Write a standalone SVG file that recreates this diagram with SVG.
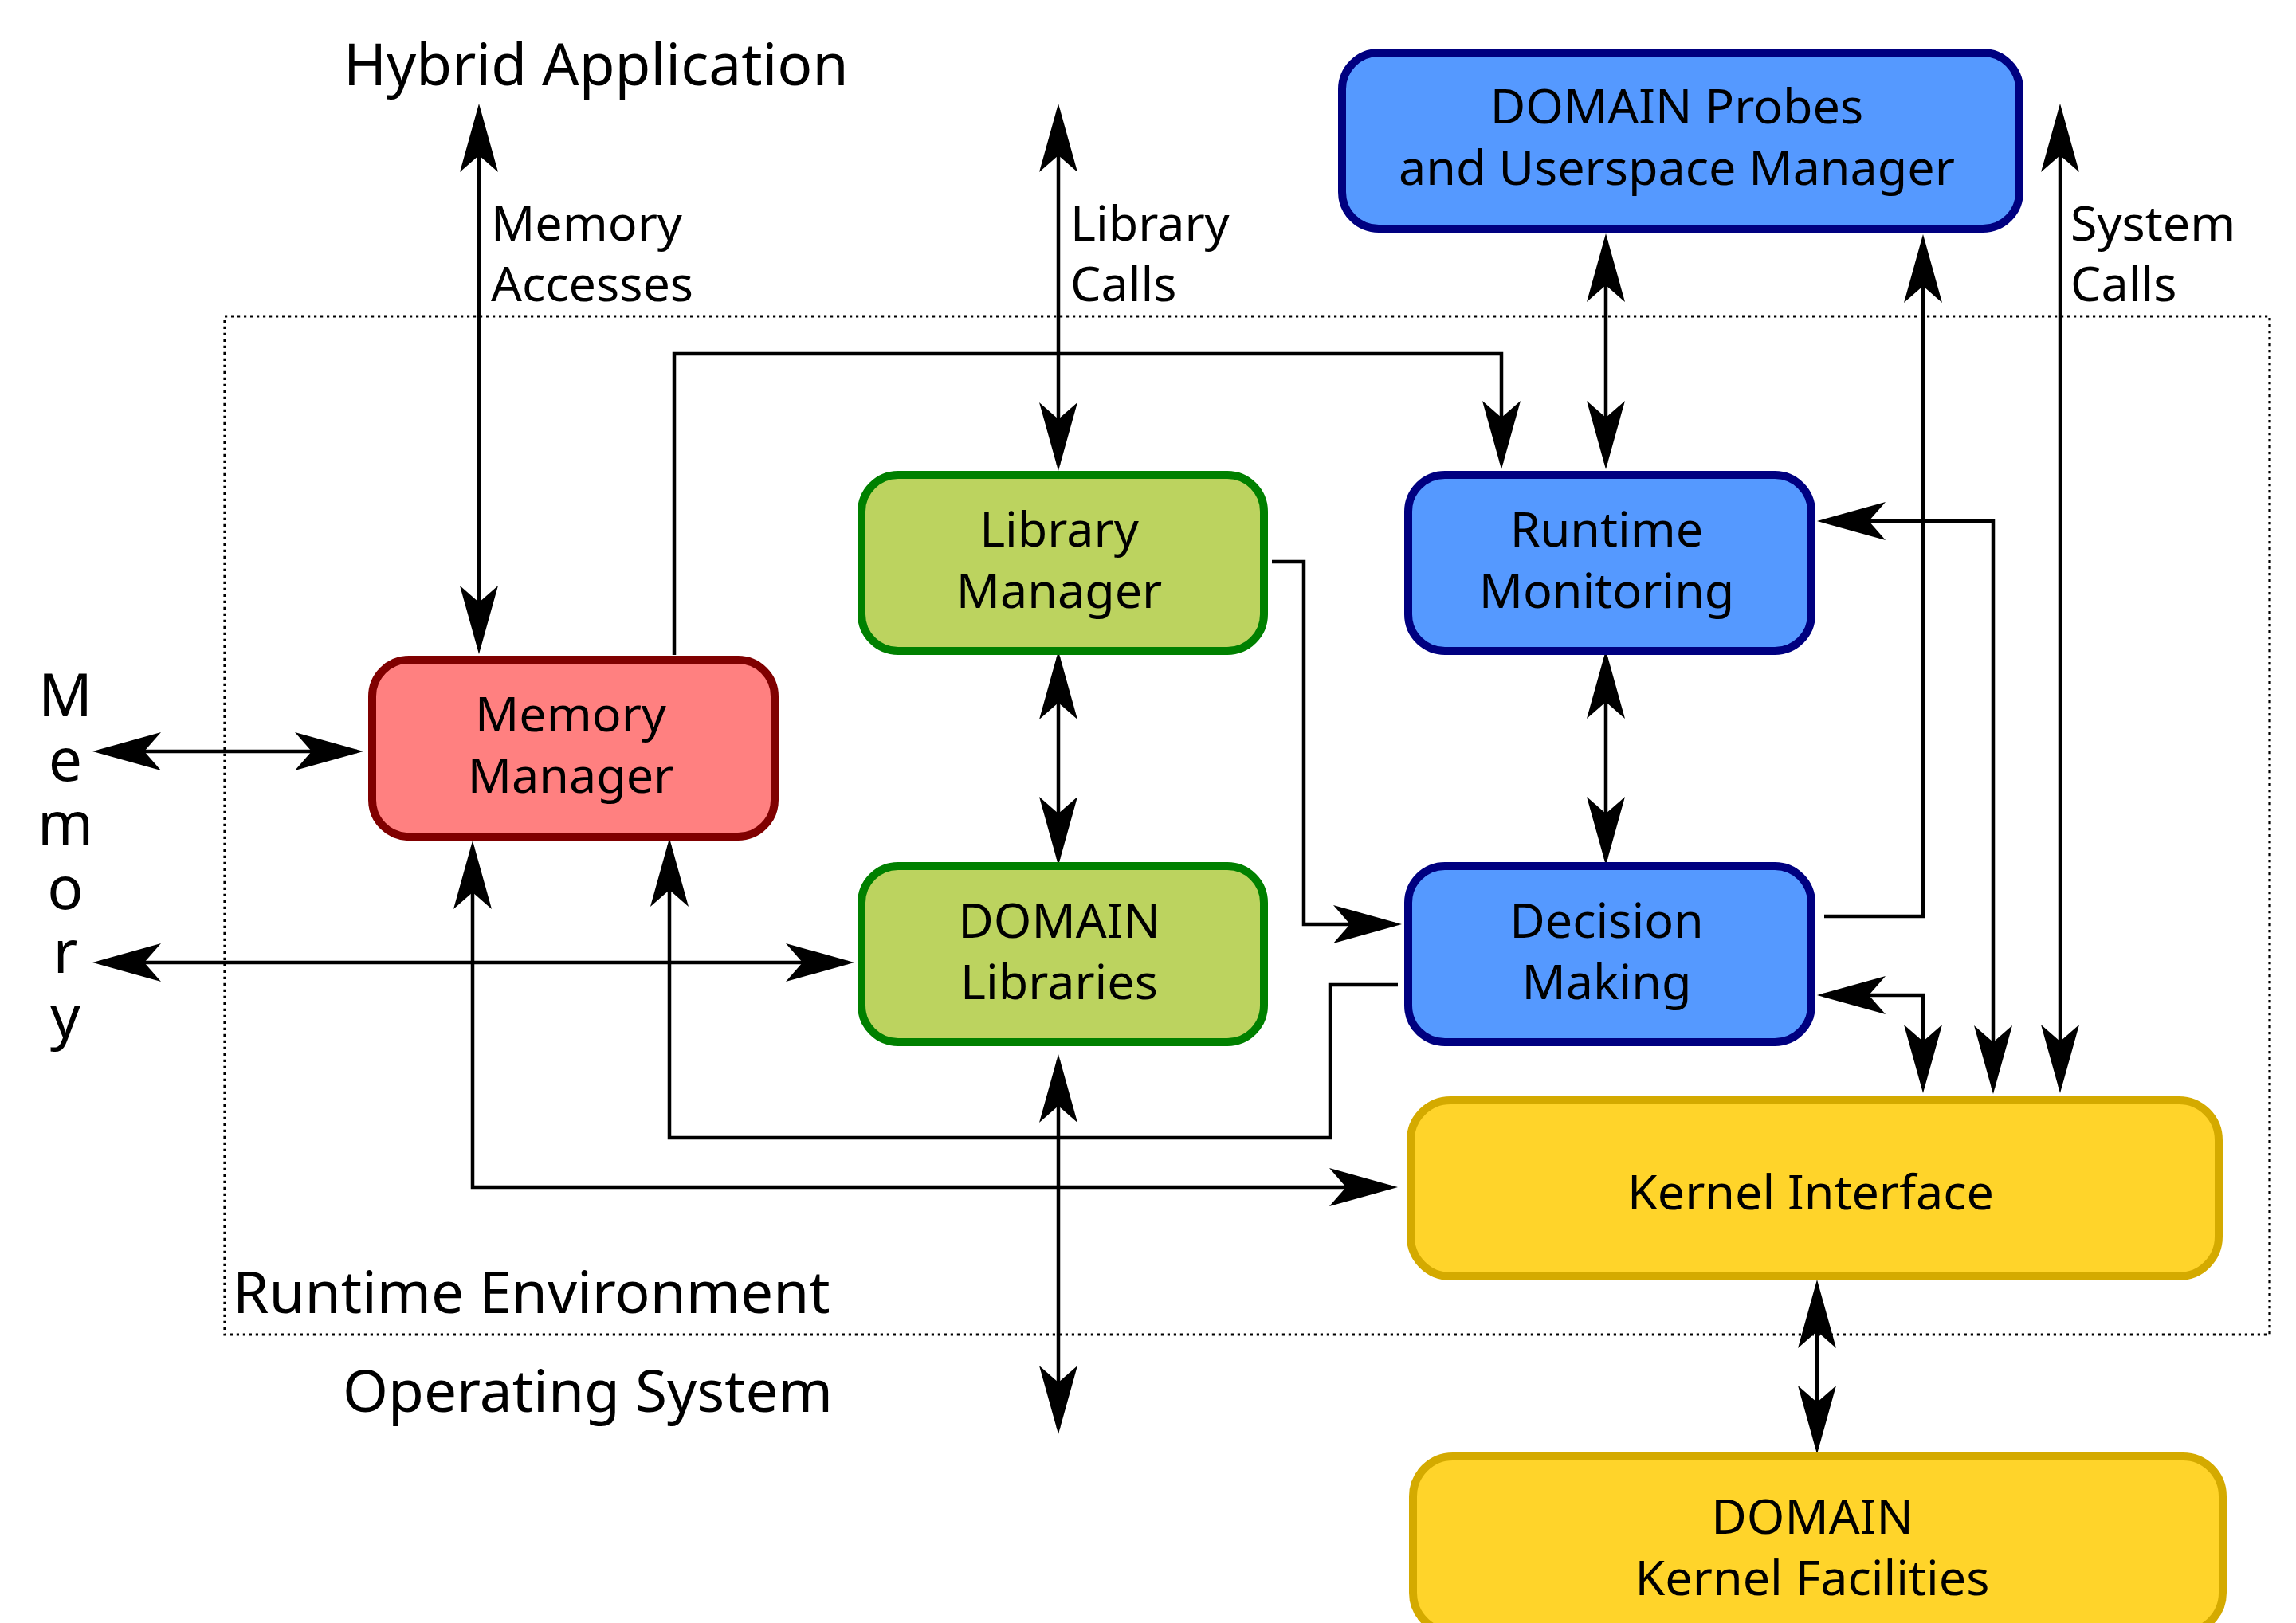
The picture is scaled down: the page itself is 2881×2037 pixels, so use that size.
<svg xmlns="http://www.w3.org/2000/svg" width="2881" height="2037" viewBox="0 0 2881 2037">
<style>
text{font-family:"Noto Sans","Open Sans","DejaVu Sans",sans-serif;fill:#000}
.big{font-size:73px}
.lbl{font-size:61px}
.nt{font-size:61px;text-anchor:middle}
.vm{font-size:75px;text-anchor:middle}
.blue{fill:#5599ff;stroke:#000080;stroke-width:10}
.green{fill:#bcd35f;stroke:#008000;stroke-width:10}
.red{fill:#ff8080;stroke:#800000;stroke-width:10}
.yellow{fill:#ffd42a;stroke:#d4aa00;stroke-width:10}
.c{fill:none;stroke:#000;stroke-width:4.5}
.c2{marker-start:url(#ah);marker-end:url(#ah)}
.c1{marker-end:url(#ah)}
</style>
<defs>
<marker id="ah" markerUnits="userSpaceOnUse" orient="auto-start-reverse" refX="0" refY="0" markerWidth="100" markerHeight="60" viewBox="-90 -30 100 60" overflow="visible">
<path d="M8,0 L-78,-24 L-57,0 L-78,24 Z" fill="#000"/>
</marker>
</defs>
<rect id="runtime-env" x="282" y="397" width="2566" height="1278" fill="none" stroke="#000" stroke-width="3.2" stroke-dasharray="3.2,4.8"/>
<text class="big" x="431" y="107">Hybrid Application</text>
<text class="big" x="292" y="1648">Runtime Environment</text>
<text class="big" x="430" y="1772">Operating System</text>
<g id="memory-label">
<text class="vm"><tspan x="82" y="899">M</tspan><tspan x="82" y="980">e</tspan><tspan x="82" y="1060">m</tspan><tspan x="82" y="1141">o</tspan><tspan x="82" y="1221">r</tspan><tspan x="82" y="1302">y</tspan></text>
</g>
<g id="edge-labels">
<text class="lbl"><tspan x="616" y="302">Memory</tspan><tspan x="616" y="378">Accesses</tspan></text>
<text class="lbl"><tspan x="1343" y="302">Library</tspan><tspan x="1343" y="378">Calls</tspan></text>
<text class="lbl"><tspan x="2598" y="302">System</tspan><tspan x="2598" y="378">Calls</tspan></text>
</g>
<g id="connectors">
<path class="c c2" d="M601,138 V813"/>
<path class="c c2" d="M1328,138 V583"/>
<path class="c c2" d="M2585,138 V1364"/>
<path class="c c2" d="M2015,301 V581"/>
<path class="c c1" d="M846,822 V444 H1884 V581"/>
<path class="c c2" d="M1328,825 V1078"/>
<path class="c c1" d="M1596,705 H1636 V1160 H1751"/>
<path class="c c2" d="M2015,824 V1078"/>
<path class="c c1" d="M2289,1150 H2413 V302"/>
<path class="c c2" d="M2288,1249 H2413 V1364"/>
<path class="c c2" d="M2288,654 H2501 V1365"/>
<path class="c c2" d="M124,943 H448"/>
<path class="c c2" d="M124,1208 H1064"/>
<path class="c c2" d="M593,1063 V1490 H1746"/>
<path class="c c1" d="M1754,1236 H1669 V1428 H840 V1060"/>
<path class="c c2" d="M1328,1331 V1792"/>
<path class="c c2" d="M2280,1614 V1817"/>
</g>
<g id="probes">
<rect class="blue" x="1684" y="66" width="850" height="221" rx="46" ry="46"/>
<text class="nt"><tspan x="2104" y="155">DOMAIN Probes</tspan><tspan x="2104" y="232">and Userspace Manager</tspan></text>
</g>
<g id="library-manager">
<rect class="green" x="1081" y="596" width="505" height="221" rx="46" ry="46"/>
<text class="nt"><tspan x="1329" y="686">Library</tspan><tspan x="1329" y="763">Manager</tspan></text>
</g>
<g id="memory-manager">
<rect class="red" x="467" y="828" width="505" height="222" rx="46" ry="46"/>
<text class="nt"><tspan x="716" y="918">Memory</tspan><tspan x="716" y="995">Manager</tspan></text>
</g>
<g id="domain-libraries">
<rect class="green" x="1081" y="1087" width="505" height="221" rx="46" ry="46"/>
<text class="nt"><tspan x="1329" y="1177">DOMAIN</tspan><tspan x="1329" y="1254">Libraries</tspan></text>
</g>
<g id="runtime-monitoring">
<rect class="blue" x="1767" y="596" width="506" height="221" rx="46" ry="46"/>
<text class="nt"><tspan x="2016" y="686">Runtime</tspan><tspan x="2016" y="763">Monitoring</tspan></text>
</g>
<g id="decision-making">
<rect class="blue" x="1767" y="1087" width="506" height="221" rx="46" ry="46"/>
<text class="nt"><tspan x="2016" y="1177">Decision</tspan><tspan x="2016" y="1254">Making</tspan></text>
</g>
<g id="kernel-interface">
<rect class="yellow" x="1770" y="1381" width="1014" height="221" rx="50" ry="50"/>
<text class="nt" x="2272" y="1518">Kernel Interface</text>
</g>
<g id="kernel-facilities">
<rect class="yellow" x="1773" y="1828" width="1016" height="221" rx="50" ry="50"/>
<text class="nt"><tspan x="2274" y="1925">DOMAIN</tspan><tspan x="2274" y="2002">Kernel Facilities</tspan></text>
</g>
</svg>
